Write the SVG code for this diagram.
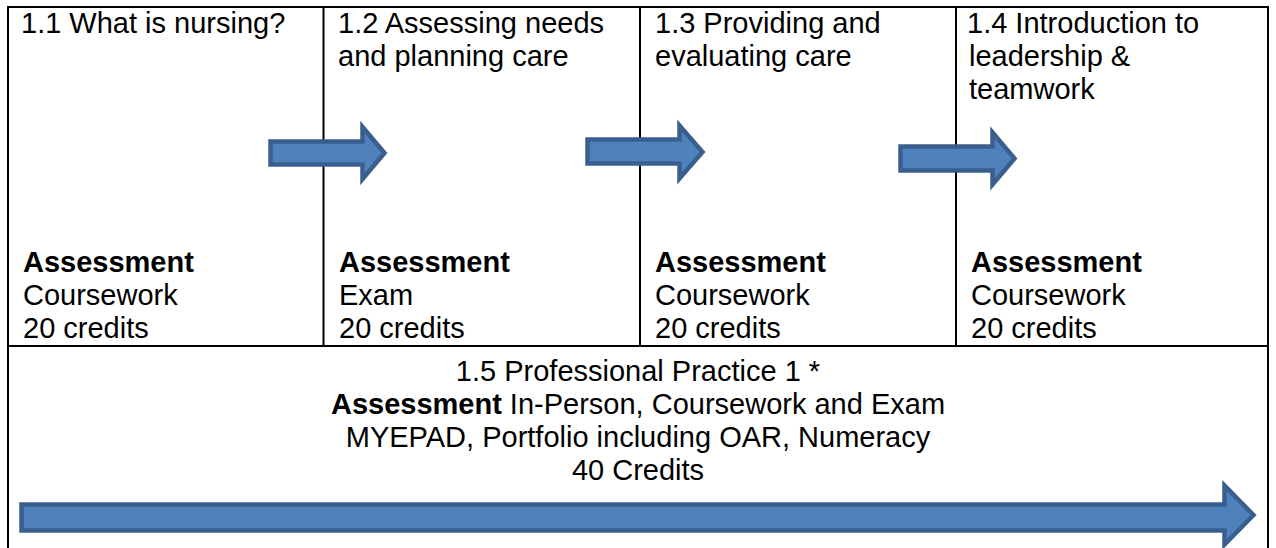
<svg xmlns="http://www.w3.org/2000/svg" width="1276" height="548" viewBox="0 0 1276 548">
<style>
.t{font-family:"Liberation Sans",Arial,sans-serif;font-size:29px;fill:#000}
.b{font-weight:bold}
.c{text-anchor:middle}
.ln{stroke:#000;stroke-width:2;fill:none}
.arr{fill:#4F81BD;stroke:#3A5F8E;stroke-width:4.5;stroke-linejoin:miter}
</style>
<rect x="0" y="0" width="1276" height="548" fill="#fff"/>
<g id="table">
<line class="ln" x1="8" y1="7" x2="1268" y2="7"/>
<line class="ln" x1="8" y1="6" x2="8" y2="548"/>
<line class="ln" x1="1268" y1="6" x2="1268" y2="548"/>
<line class="ln" x1="8" y1="346" x2="1268" y2="346"/>
<line class="ln" x1="323.5" y1="7" x2="323.5" y2="346"/>
<line class="ln" x1="640" y1="7" x2="640" y2="346"/>
<line class="ln" x1="956" y1="7" x2="956" y2="346"/>
</g>
<g id="node-1-1">
<text class="t" x="21" y="33">1.1 What is nursing?</text>
<text class="t b" x="23" y="272">Assessment</text>
<text class="t" x="23" y="305">Coursework</text>
<text class="t" x="23" y="338">20 credits</text>
</g>
<g id="node-1-2">
<text class="t" x="338" y="33">1.2 Assessing needs</text>
<text class="t" x="338" y="66">and planning care</text>
<text class="t b" x="339" y="272">Assessment</text>
<text class="t" x="339" y="305">Exam</text>
<text class="t" x="339" y="338">20 credits</text>
</g>
<g id="node-1-3">
<text class="t" x="655" y="33">1.3 Providing and</text>
<text class="t" x="655" y="66">evaluating care</text>
<text class="t b" x="655" y="272">Assessment</text>
<text class="t" x="655" y="305">Coursework</text>
<text class="t" x="655" y="338">20 credits</text>
</g>
<g id="node-1-4">
<text class="t" x="967" y="33">1.4 Introduction to</text>
<text class="t" x="969" y="66">leadership &amp;</text>
<text class="t" x="969" y="99">teamwork</text>
<text class="t b" x="971" y="272">Assessment</text>
<text class="t" x="971" y="305">Coursework</text>
<text class="t" x="971" y="338">20 credits</text>
</g>
<g id="node-1-5">
<text class="t c" x="638" y="381">1.5 Professional Practice 1 *</text>
<text class="t c" x="638" y="414"><tspan class="b">Assessment</tspan> In-Person, Coursework and Exam</text>
<text class="t c" x="638" y="447">MYEPAD, Portfolio including OAR, Numeracy</text>
<text class="t c" x="638" y="480">40 Credits</text>
</g>
<g id="connectors">
<path class="arr" d="M270.5,141.5 H362.5 V127 L384.5,153 L362.5,179 V164.5 H270.5 Z"/>
<path class="arr" d="M587.5,139.5 H679.5 V125.5 L702.5,152 L679.5,178.5 V163.5 H587.5 Z"/>
<path class="arr" d="M900.5,146.5 H992.5 V132.5 L1014.5,158.5 L992.5,184.5 V170.5 H900.5 Z"/>
<path class="arr" d="M21.5,504.5 H1224.5 V485.5 L1253.5,515 L1224.5,544.5 V530.5 H21.5 Z"/>
</g>
</svg>
